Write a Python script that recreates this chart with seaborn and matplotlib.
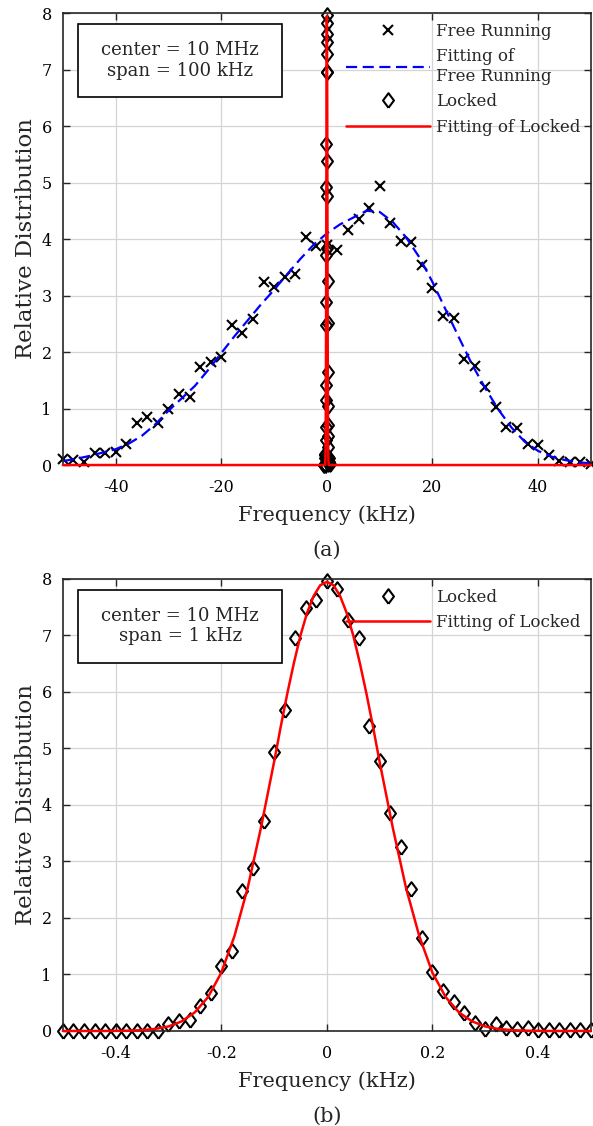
import matplotlib
matplotlib.use("Agg")
import matplotlib.pyplot as plt
import seaborn as sns
from matplotlib.patches import Rectangle

# ---- data ----
# free running measurement, kHz offset from 10 MHz
free_x = [-50, -48, -46, -44, -42, -40, -38, -36, -34, -32, -30, -28, -26,
          -24, -22, -20, -18, -16, -14, -12, -10, -8, -6, -4, -2, 0,
          2, 4, 6, 8, 10, 12, 14, 16, 18, 20, 22, 24, 26, 28, 30,
          32, 34, 36, 38, 40, 42, 44, 46, 48, 50]
free_y = [0.11, 0.09, 0.06, 0.21, 0.21, 0.23, 0.38, 0.74, 0.85, 0.74, 1.00, 1.26, 1.20,
          1.73, 1.82, 1.92, 2.47, 2.34, 2.59, 3.24, 3.16, 3.33, 3.38, 4.03, 3.87, 3.90,
          3.81, 4.16, 4.35, 4.55, 4.94, 4.29, 3.96, 3.95, 3.54, 3.13, 2.63, 2.61, 1.87, 1.76, 1.39,
          1.02, 0.68, 0.66, 0.38, 0.36, 0.17, 0.08, 0.06, 0.05, 0.02]

# fitted curve of free running
free_fit_x = [-50, -47.5, -45, -42.5, -40, -37.5, -35, -32.5, -30, -27.5, -25, -22.5,
              -20, -17.5, -15, -12.5, -10, -7.5, -5, -2.5, 0, 2.5, 5, 7.5, 10, 12.5,
              15, 17.5, 20, 22.5, 25, 27.5, 30, 32.5, 35, 37.5, 40, 42.5, 45, 47.5, 50]
free_fit_y = [0.07, 0.11, 0.16, 0.22, 0.28, 0.38, 0.52, 0.72, 0.96, 1.18, 1.40, 1.68,
              1.98, 2.28, 2.56, 2.84, 3.10, 3.38, 3.65, 3.90, 4.10, 4.26, 4.38, 4.50, 4.48, 4.30,
              4.03, 3.68, 3.24, 2.75, 2.26, 1.78, 1.36, 0.98, 0.66, 0.41, 0.25, 0.15, 0.09, 0.05, 0.03]

# locked measurement, kHz
locked_x = [-0.50, -0.48, -0.46, -0.44, -0.42, -0.40, -0.38, -0.36, -0.34, -0.32,
            -0.30, -0.28, -0.26, -0.24, -0.22, -0.20, -0.18, -0.16, -0.14, -0.12,
            -0.10, -0.08, -0.06, -0.04, -0.02, 0.00, 0.02, 0.04, 0.06, 0.08,
            0.10, 0.12, 0.14, 0.16, 0.18, 0.20, 0.22, 0.24, 0.26, 0.28,
            0.30, 0.32, 0.34, 0.36, 0.38, 0.40, 0.42, 0.44, 0.46, 0.48, 0.50]
locked_y = [0, 0, 0, 0, 0, 0, 0, 0, 0, 0,
            0.12, 0.17, 0.19, 0.44, 0.68, 1.15, 1.42, 2.47, 2.89, 3.71,
            4.93, 5.68, 6.95, 7.48, 7.63, 7.97, 7.82, 7.27, 6.95, 5.39,
            4.77, 3.85, 3.26, 2.51, 1.64, 1.04, 0.70, 0.52, 0.32, 0.14,
            0.03, 0.12, 0.05, 0.03, 0.05, 0.02, 0.02, 0.02, 0.02, 0.02, 0.02]

# fitted curve of locked
locked_fit_x = [-0.5, -0.475, -0.45, -0.425, -0.4, -0.375, -0.35, -0.325, -0.3, -0.275,
                -0.25, -0.225, -0.2, -0.175, -0.15, -0.125, -0.1, -0.0875, -0.075, -0.0625,
                -0.05, -0.0375, -0.025, -0.0125, 0, 0.0125, 0.025, 0.0375, 0.05, 0.0625,
                0.075, 0.0875, 0.1, 0.125, 0.15, 0.175, 0.2, 0.225, 0.25, 0.275,
                0.3, 0.325, 0.35, 0.375, 0.4, 0.425, 0.45, 0.475, 0.5]
locked_fit_y = [0, 0, 0, 0, 0.002, 0.006, 0.015, 0.036, 0.08, 0.17,
                0.33, 0.60, 1.03, 1.68, 2.53, 3.59, 4.76, 5.38, 5.97, 6.51,
                7.00, 7.40, 7.70, 7.89, 7.95, 7.89, 7.70, 7.40, 7.00, 6.51,
                5.97, 5.38, 4.76, 3.59, 2.53, 1.68, 1.03, 0.60, 0.33, 0.17,
                0.08, 0.036, 0.015, 0.006, 0.002, 0, 0, 0, 0]
# the same fit seen on the wide (100 kHz) span
wide_fit_x = [-50.0] + locked_fit_x + [50.0]
wide_fit_y = [0.0] + locked_fit_y + [0.0]

x_ticks_a = [-40, -20, 0, 20, 40]
x_labels_a = ["-40", "-20", "0", "20", "40"]
x_ticks_b = [-0.4, -0.2, 0, 0.2, 0.4]
x_labels_b = ["-0.4", "-0.2", "0", "0.2", "0.4"]
y_ticks = [0, 1, 2, 3, 4, 5, 6, 7, 8]

sns.set_style("ticks")
plt.rcParams["font.family"] = ["DejaVu Serif"]
plt.rcParams["axes.unicode_minus"] = False

fig = plt.figure(figsize=(5.93, 11.26), dpi=100)
ax_a = fig.add_axes([0.106, 0.587, 0.8904, 0.4014])
ax_b = fig.add_axes([0.106, 0.0844, 0.8904, 0.4014])

# a diamond a bit wider than matplotlib's thin one
diamond = [(0, -1), (0.75, 0), (0, 1), (-0.75, 0), (0, -1)]

xs_style = dict(marker="x", linestyle="", color="black", markersize=7,
                markeredgewidth=1.5, markeredgecolor="black", clip_on=False)
dia_style = dict(marker=diamond, linestyle="", color="black", markersize=10.5,
                 markerfacecolor="none", markeredgewidth=1.5,
                 markeredgecolor="black", clip_on=False)

# (a) 100 kHz span
sns.lineplot(x=free_x, y=free_y, ax=ax_a, estimator=None, sort=False,
             label="Free Running", **xs_style)
sns.lineplot(x=free_fit_x, y=free_fit_y, ax=ax_a, estimator=None, sort=False,
             color="#0000ff", linewidth=1.6, linestyle=(0, (5, 2.5)),
             label="Fitting of\nFree Running")
sns.lineplot(x=locked_x, y=locked_y, ax=ax_a, estimator=None, sort=False,
             label="Locked", **dia_style)
sns.lineplot(x=wide_fit_x, y=wide_fit_y, ax=ax_a, estimator=None, sort=False,
             color="#ff0000", linewidth=1.8, clip_on=False, zorder=3,
             label="Fitting of Locked")

# (b) 1 kHz span
sns.lineplot(x=locked_x, y=locked_y, ax=ax_b, estimator=None, sort=False,
             label="Locked", **dia_style)
sns.lineplot(x=locked_fit_x, y=locked_fit_y, ax=ax_b, estimator=None, sort=False,
             color="#ff0000", linewidth=1.8, clip_on=False, zorder=3,
             label="Fitting of Locked")

for ax, lim, ticks, labels, box_txt, tag in [
        (ax_a, (-50, 50), x_ticks_a, x_labels_a, "center = 10 MHz\nspan = 100 kHz", "(a)"),
        (ax_b, (-0.5, 0.5), x_ticks_b, x_labels_b, "center = 10 MHz\nspan = 1 kHz", "(b)")]:
    ax.set_xlim(*lim)
    ax.set_ylim(0, 8)
    ax.set_xticks(ticks, labels)
    ax.set_yticks(y_ticks)
    ax.grid(True, color="#d4d4d4", linewidth=0.9)
    ax.set_axisbelow(True)
    for sp in ax.spines.values():
        sp.set_visible(True)
        sp.set_color("#262626")
        sp.set_linewidth(1.2)
    ax.tick_params(direction="in", top=True, right=True, length=5, width=1,
                   labelsize=11.5, colors="#262626")
    ax.tick_params(axis="x", pad=10, labelcolor="black")
    ax.tick_params(axis="y", pad=8, labelcolor="black")
    ax.set_xlabel("Frequency (kHz)", fontsize=15, labelpad=7)
    ax.set_ylabel("Relative Distribution", fontsize=16.5, labelpad=3)
    ax.add_patch(Rectangle((0.0284, 0.814), 0.387, 0.162, transform=ax.transAxes,
                           fill=True, facecolor="white", edgecolor="black",
                           linewidth=1.2, zorder=5))
    ax.text(0.222, 0.895, box_txt, transform=ax.transAxes, ha="center", va="center",
            fontsize=13, linespacing=1.15, zorder=6)
    ax.legend(loc="upper right", frameon=False, fontsize=12, handlelength=5,
              handletextpad=0.4, borderaxespad=0.2, labelspacing=0.5)
    pos = ax.get_position()
    fig.text(0.551, pos.y0 - 0.076, tag, ha="center", va="center", fontsize=15)

fig.savefig("out.png", dpi=100)
